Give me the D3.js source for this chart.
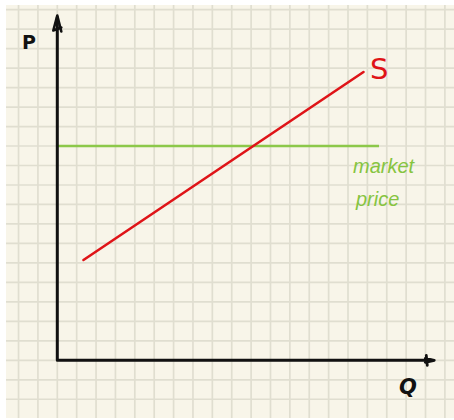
<!DOCTYPE html>
<html>
<head>
<meta charset="utf-8">
<script src="https://cdn.jsdelivr.net/npm/d3@7/dist/d3.min.js"></script>
<style>
  html, body { margin: 0; padding: 0; background: #ffffff; }
  svg { display: block; }
</style>
</head>
<body>
<script>
// Supply curve on a quantity / price plane, measured in grid units.
const supplyQ = [1.35, 15.8];
const supplyP = [5.15, 14.8];
const marketPrice = 11.0;
const marketQ = [0, 16.6];
const axisMax = { q: 19.4, p: 17.7 };
const gridQ = d3.range(-2, 21);
const gridP = d3.range(-2, 19);
const labels = { p: "P", q: "Q", supply: "S", market: ["market", "price"] };

const W = 454, H = 420;
const svg = d3.select("body").append("svg").attr("width", W).attr("height", H);

// Origin sits at (57.3, 360); one grid square is ~19.4 px.
const x = d3.scaleLinear().domain([0, 1]).range([57.3, 57.3 + 19.38]);
const y = d3.scaleLinear().domain([0, 1]).range([360.3, 360.3 - 19.48]);

// Paper
const paper = { x0: 6, y0: 5, x1: W, y1: 418 };
svg.append("rect")
  .attr("x", paper.x0).attr("y", paper.y0)
  .attr("width", paper.x1 - paper.x0).attr("height", paper.y1 - paper.y0)
  .attr("fill", "#f8f5e9");

const grid = svg.append("g").attr("stroke", "#e0ded0").attr("stroke-width", 1.7);
grid.selectAll("line.v").data(gridQ.filter(d => x(d) > paper.x0 && x(d) < paper.x1))
  .join("line").attr("class", "v")
  .attr("x1", d => x(d)).attr("x2", d => x(d))
  .attr("y1", paper.y0).attr("y2", paper.y1);
grid.selectAll("line.h").data(gridP.filter(d => y(d) > paper.y0 && y(d) < paper.y1))
  .join("line").attr("class", "h")
  .attr("y1", d => y(d)).attr("y2", d => y(d))
  .attr("x1", paper.x0).attr("x2", paper.x1);

// Market price line
svg.append("line")
  .attr("x1", x(marketQ[0])).attr("x2", x(marketQ[1]))
  .attr("y1", y(marketPrice)).attr("y2", y(marketPrice))
  .attr("stroke", "#8cc84a").attr("stroke-width", 2.5);

// Supply curve
svg.append("line")
  .attr("x1", x(supplyQ[0])).attr("y1", y(supplyP[0]))
  .attr("x2", x(supplyQ[1])).attr("y2", y(supplyP[1]))
  .attr("stroke", "#df1418").attr("stroke-width", 2.6)
  .attr("stroke-linecap", "round");

// Axes
const axes = svg.append("g").attr("stroke", "#111").attr("fill", "none")
  .attr("stroke-width", 3).attr("stroke-linecap", "round").attr("stroke-linejoin", "round");
axes.append("path")
  .attr("d", `M${x(0)},${y(axisMax.p) + 2} L${x(0)},${y(0)} L${x(axisMax.q) - 2},${y(0)}`);
// Arrowhead on price axis
const tipX = x(0), tipY = y(axisMax.p);
axes.append("path").attr("stroke-width", 2.6)
  .attr("d", `M${tipX - 4},${tipY + 15} L${tipX},${tipY} L${tipX + 4},${tipY + 16} M${tipX - 4},${tipY + 15} L${tipX + 4},${tipY + 12}`);
// Arrowhead on quantity axis
const endX = x(axisMax.q), endY = y(0);
axes.append("path").attr("stroke-width", 2.8)
  .attr("d", `M${endX - 7},${endY - 5} L${endX - 6},${endY + 5} M${endX - 8},${endY - 2} L${endX + 1},${endY} L${endX - 8},${endY + 2}`);

// Labels
svg.append("text").text(labels.p)
  .attr("x", 22).attr("y", 49)
  .attr("font-family", "DejaVu Sans").attr("font-weight", "bold").attr("font-size", 19)
  .attr("fill", "#111");
svg.append("text").text(labels.q)
  .attr("x", 399).attr("y", 394)
  .attr("font-family", "DejaVu Sans").attr("font-weight", "bold").attr("font-size", 21)
  .attr("font-style", "italic")
  .attr("fill", "#111");
svg.append("text").text(labels.supply)
  .attr("x", 370).attr("y", 79)
  .attr("font-family", "DejaVu Sans").attr("font-size", 29)
  .attr("fill", "#df1418");
svg.append("text")
  .attr("font-family", "Liberation Sans Narrow, Liberation Sans").attr("font-size", 20)
  .attr("font-style", "italic")
  .attr("fill", "#86c440")
  .selectAll("tspan").data(labels.market).join("tspan")
  .attr("x", (d, i) => i ? 356 : 353)
  .attr("y", (d, i) => i ? 206 : 173)
  .text(d => d);
</script>
</body>
</html>
